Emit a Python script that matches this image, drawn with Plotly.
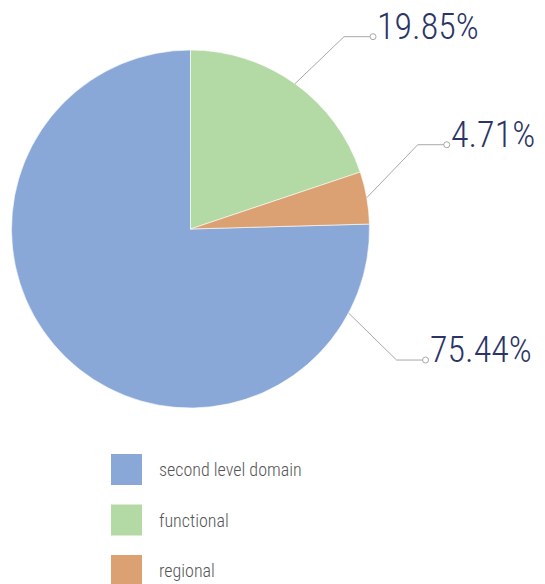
import math
import plotly.graph_objects as go

# ---- data ----
categories = ["second level domain", "functional", "regional"]
values = [75.44, 19.85, 4.71]
value_labels = ["75.44%", "19.85%", "4.71%"]

# ---- style ----
colors = ["#89a8d8", "#b3d9a5", "#dca172"]
OFF = 8                      # page body margin of the browser
W, H = 545 - OFF, 584 - OFF  # figure size
CX, CY, R = 190.5, 229, 179  # pie geometry in window pixels
FONT = "Roboto Condensed, Roboto, Arial"
LABEL_COLOR = "#2b3466"
LINE_COLOR = "#a8a8a8"

def px(x):
    return (x - OFF) / W

def py(y):
    return 1 - (y - OFF) / H

total = sum(values)
# clockwise from 12 o'clock the slices appear as: functional, regional, second level domain
pie_order = [1, 2, 0]
start = {}
acc = 0.0
for i in pie_order:
    start[i] = acc
    acc += values[i]

fig = go.Figure()
fig.add_trace(go.Pie(
    labels=categories,
    values=values,
    marker=dict(colors=colors, line=dict(color="white", width=0.6)),
    sort=False,
    direction="clockwise",
    rotation=start[0] / total * 360,
    textinfo="none",
    hoverinfo="label+percent",
    showlegend=False,
    domain=dict(x=[px(CX - R), px(CX + R)], y=[py(CY + R), py(CY - R)]),
))

# leader lines: anchor angle on edge (deg clockwise from top), elbow offset, horizontal length
anchor_angle = {}
for i in range(len(values)):
    anchor_angle[i] = (start[i] + values[i] / 2) / total * 360
anchor_angle[0] = 118.0  # label of big slice is placed on its right side
elbow = {0: (48, 47), 1: (49, -47), 2: (51, -53)}
hlen = 29

shapes = []
annotations = []
for i in range(len(values)):
    a = math.radians(anchor_angle[i])
    ex = CX + R * math.sin(a)
    ey = CY - R * math.cos(a)
    bx, by = ex + elbow[i][0], ey + elbow[i][1]
    cx, cy = bx + hlen, by
    shapes.append(dict(type="path", xref="paper", yref="paper",
                       path=f"M {px(ex)} {py(ey)} L {px(bx)} {py(by)} L {px(cx)} {py(cy)}",
                       line=dict(color=LINE_COLOR, width=1)))
    shapes.append(dict(type="circle", xref="paper", yref="paper",
                       x0=px(cx - 3), x1=px(cx + 3), y0=py(cy + 3), y1=py(cy - 3),
                       line=dict(color=LINE_COLOR, width=1), fillcolor="white"))
    annotations.append(dict(text=value_labels[i], xref="paper", yref="paper",
                            x=px(cx + 2), y=py(cy - 10), xanchor="left", yanchor="middle",
                            showarrow=False,
                            font=dict(family=FONT, size=36, weight=300, color=LABEL_COLOR)))

# manual legend
leg_x0, leg_y0, leg_step, sq = 111, 454, 50.5, 31
for k, name in enumerate(categories):
    y0 = leg_y0 + k * leg_step
    shapes.append(dict(type="rect", xref="paper", yref="paper",
                       x0=px(leg_x0), x1=px(leg_x0 + sq), y0=py(y0 + sq), y1=py(y0),
                       line=dict(width=0), fillcolor=colors[k]))
    annotations.append(dict(text=name, xref="paper", yref="paper",
                            x=px(157), y=py(y0 + sq / 2), xanchor="left", yanchor="middle",
                            showarrow=False,
                            font=dict(family=FONT, size=18, weight=300, color="#555555")))

fig.update_layout(
    width=W, height=H,
    margin=dict(l=0, r=0, t=0, b=0),
    paper_bgcolor="white", plot_bgcolor="white",
    shapes=shapes, annotations=annotations,
    showlegend=False,
)
fig.write_html("out.html")
